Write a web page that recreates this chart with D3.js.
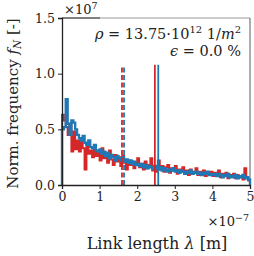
<!DOCTYPE html>
<html>
<head>
<meta charset="utf-8">
<script src="https://cdn.jsdelivr.net/npm/d3@7"></script>
<style>
  body { margin: 0; background: #fff; }
  svg { display: block; }
  text { font-family: "DejaVu Serif", "Liberation Serif", serif; fill: #222; }
</style>
</head>
<body>
<div id="chart"></div>
<script>
// histogram values, units of 1e7, bins of 0.05e-7 from 0 to 5e-7
const blueCounts = [
  0.50, 0.52, 0.77, 0.55, 0.45, 0.58, 0.56, 0.50, 0.45, 0.42,
  0.40, 0.44, 0.38, 0.36, 0.40, 0.34, 0.33, 0.36, 0.31, 0.30,
  0.32, 0.28, 0.30, 0.26, 0.29, 0.24, 0.27, 0.25, 0.22, 0.26,
  0.24, 0.22, 0.25, 0.21, 0.23, 0.20, 0.22, 0.19, 0.21, 0.18,
  0.19, 0.17, 0.19, 0.16, 0.18, 0.15, 0.17, 0.16, 0.14, 0.17,
  0.15, 0.14, 0.16, 0.13, 0.15, 0.14, 0.12, 0.14, 0.13, 0.15,
  0.12, 0.13, 0.11, 0.13, 0.12, 0.10, 0.12, 0.11, 0.13, 0.10,
  0.11, 0.12, 0.10, 0.11, 0.09, 0.11, 0.10, 0.12, 0.09, 0.10,
  0.09, 0.10, 0.08, 0.10, 0.09, 0.07, 0.09, 0.08, 0.10, 0.07,
  0.08, 0.07, 0.09, 0.06, 0.08, 0.07, 0.09, 0.06, 0.07, 0.05
];
const redCounts = [
  0.63, 0.58, 0.52, 0.45, 0.55, 0.30, 0.48, 0.32, 0.40, 0.30,
  0.42, 0.33, 0.14, 0.36, 0.28, 0.31, 0.25, 0.33, 0.26, 0.30,
  0.22, 0.33, 0.24, 0.28, 0.20, 0.31, 0.23, 0.18, 0.27, 0.21,
  0.25, 0.17, 0.26, 0.20, 0.14, 0.22, 0.18, 0.21, 0.15, 0.20,
  0.24, 0.16, 0.19, 0.14, 0.21, 0.15, 0.18, 0.24, 0.13, 0.17,
  0.12, 0.22, 0.14, 0.17, 0.12, 0.16, 0.18, 0.11, 0.15, 0.13,
  0.17, 0.10, 0.14, 0.12, 0.16, 0.11, 0.13, 0.09, 0.14, 0.11,
  0.12, 0.15, 0.09, 0.12, 0.10, 0.13, 0.08, 0.11, 0.10, 0.12,
  0.08, 0.11, 0.09, 0.13, 0.07, 0.10, 0.08, 0.11, 0.06, 0.09,
  0.08, 0.10, 0.06, 0.09, 0.07, 0.08, 0.05, 0.15, 0.06, 0.04
];
const binWidth = 0.05;

// vertical marker lines (x in 1e-7, height in 1e7)
const meanLines = [
  { x: 1.595, h: 1.07, color: "#d62728", dashed: true },
  { x: 1.65, h: 1.07, color: "#1f77b4", dashed: true },
  { x: 2.47, h: 1.08, color: "#d62728", dashed: false },
  { x: 2.56, h: 1.08, color: "#1f77b4", dashed: false }
];

const xTicks = [0, 1, 2, 3, 4, 5];
const yTicks = [0.0, 0.5, 1.0, 1.5];

const width = 254, height = 256;
const margin = { top: 18, right: 4, bottom: 71, left: 62 };
const innerW = width - margin.left - margin.right;
const innerH = height - margin.top - margin.bottom;

const svg = d3.select("#chart").append("svg")
  .attr("width", width)
  .attr("height", height);

const g = svg.append("g")
  .attr("transform", "translate(" + margin.left + "," + margin.top + ")");

const xScale = d3.scaleLinear().domain([0, 5]).range([0, innerW]);
const yScale = d3.scaleLinear().domain([0, 1.5]).range([innerH, 0]);

// frame: top/right gray
g.append("line")
  .attr("x1", 0).attr("x2", innerW).attr("y1", 0).attr("y2", 0)
  .attr("stroke", "#999").attr("stroke-width", 1);
g.append("line")
  .attr("x1", 0).attr("x2", 38).attr("y1", 0).attr("y2", 0)
  .attr("stroke", "#333").attr("stroke-width", 1.2);
g.append("line")
  .attr("x1", innerW).attr("x2", innerW).attr("y1", 0).attr("y2", innerH)
  .attr("stroke", "#777").attr("stroke-width", 1.2);

// step histogram path
function stepPath(counts) {
  const pts = [[0, 0]];
  counts.forEach((c, i) => {
    pts.push([i * binWidth, c]);
    pts.push([(i + 1) * binWidth, c]);
  });
  pts.push([counts.length * binWidth, 0]);
  return d3.line()
    .x(d => xScale(d[0]))
    .y(d => yScale(d[1]))(pts);
}

g.append("path")
  .attr("d", stepPath(redCounts))
  .attr("fill", "none")
  .attr("stroke", "#d62728")
  .attr("stroke-width", 2)
  .attr("stroke-linejoin", "miter");

g.append("path")
  .attr("d", stepPath(blueCounts))
  .attr("fill", "none")
  .attr("stroke", "#1f77b4")
  .attr("stroke-width", 2.4)
  .attr("stroke-linejoin", "miter");

g.selectAll("line.mean")
  .data(meanLines)
  .join("line")
  .attr("class", "mean")
  .attr("x1", d => xScale(d.x)).attr("x2", d => xScale(d.x))
  .attr("y1", yScale(0)).attr("y2", d => yScale(d.h))
  .attr("stroke", d => d.color)
  .attr("stroke-width", 1.8)
  .attr("stroke-dasharray", d => d.dashed ? "5,2.5" : null);

// axes
const xAxis = d3.axisBottom(xScale).tickValues(xTicks).tickFormat(d3.format("d")).tickSize(4).tickPadding(3);
const yAxis = d3.axisLeft(yScale).tickValues(yTicks).tickFormat(d3.format(".1f")).tickSize(4).tickPadding(3);

const gx = g.append("g")
  .attr("transform", "translate(0," + innerH + ")")
  .call(xAxis);
const gy = g.append("g").call(yAxis);

[gx, gy].forEach(a => {
  a.select(".domain").attr("stroke", "#222").attr("stroke-width", 1.3);
  a.selectAll(".tick line").attr("stroke", "#222").attr("stroke-width", 1);
  a.selectAll(".tick text")
    .style("font-family", "'DejaVu Serif', serif")
    .style("font-size", "12.5px")
    .attr("fill", "#333");
});

// offset labels
g.append("text")
  .attr("x", 2).attr("y", -4)
  .style("font-size", "13px")
  .html("×10<tspan dy='-5' font-size='9.5px'>7</tspan>");

g.append("text")
  .attr("x", innerW - 1).attr("y", innerH + 41)
  .attr("text-anchor", "end")
  .style("font-size", "13px")
  .html("×10<tspan dy='-5' font-size='9.5px'>−7</tspan>");

// annotation
g.append("text")
  .attr("x", innerW - 9).attr("y", 21)
  .attr("text-anchor", "end")
  .style("font-size", "14.5px")
  .html("<tspan font-style='italic'>ρ</tspan> = 13.75·10<tspan dy='-6' font-size='10px'>12</tspan><tspan dy='6'> 1/</tspan><tspan font-style='italic'>m</tspan><tspan dy='-6' font-size='10px'>2</tspan>");

g.append("text")
  .attr("x", innerW - 9).attr("y", 38)
  .attr("text-anchor", "end")
  .style("font-size", "14.5px")
  .html("<tspan font-style='italic'>ϵ</tspan> = 0.0 %");

// axis titles
svg.append("text")
  .attr("x", margin.left + innerW / 2 + 1)
  .attr("y", 249)
  .attr("text-anchor", "middle")
  .style("font-size", "16px")
  .html("Link length <tspan font-style='italic'>λ</tspan> [m]");

svg.append("text")
  .attr("transform", "translate(18," + (margin.top + innerH / 2 + 2) + ") rotate(-90)")
  .attr("text-anchor", "middle")
  .style("font-size", "15px")
  .html("Norm. frequency <tspan font-style='italic'>f</tspan><tspan dy='3' font-size='10.5px' font-style='italic'>N</tspan><tspan dy='-3'> [-]</tspan>");
</script>
</body>
</html>
